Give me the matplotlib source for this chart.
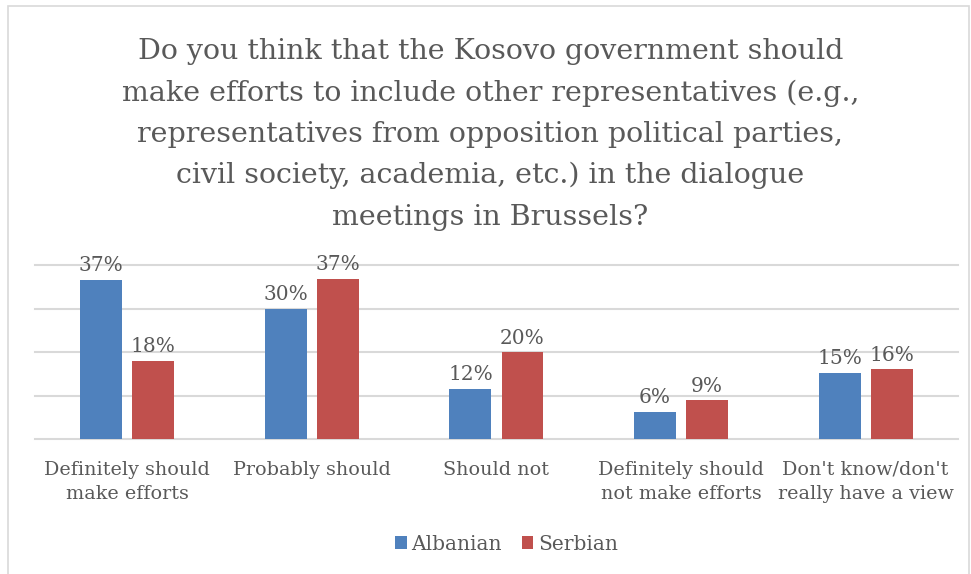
import numpy as np
import matplotlib.pyplot as plt
from matplotlib.patches import Rectangle

# data
categories = ['Definitely should\nmake efforts', 'Probably should', 'Should not',
              'Definitely should\nnot make efforts', "Don't know/don't\nreally have a view"]
albanian = [36.6, 30.0, 11.5, 6.3, 15.2]
serbian = [17.9, 36.9, 19.9, 8.9, 16.0]
albanian_labels = ['37%', '30%', '12%', '6%', '15%']
serbian_labels = ['18%', '37%', '20%', '9%', '16%']

title = ('Do you think that the Kosovo government should\n'
         'make efforts to include other representatives (e.g.,\n'
         'representatives from opposition political parties,\n'
         'civil society, academia, etc.) in the dialogue\n'
         'meetings in Brussels?')

plt.rcParams['font.family'] = ['DejaVu Serif']
text_col = '#595959'

fig = plt.figure(figsize=(9.71, 5.74), dpi=100)
ax = fig.add_axes([0.036, 0.2352, 0.9506, 0.303])

x = np.arange(len(categories))
w = 0.227
off = 0.141
b1 = ax.bar(x - off, albanian, w, color='#4F81BD', label='Albanian', zorder=3)
b2 = ax.bar(x + off, serbian, w, color='#C0504D', label='Serbian', zorder=3)

for bars, labs in [(b1, albanian_labels), (b2, serbian_labels)]:
    for r, t in zip(bars, labs):
        ax.text(r.get_x() + r.get_width() / 2, r.get_height() + 1.1, t,
                ha='center', va='bottom', fontsize=14.5, color=text_col)

ax.set_xlim(-0.5, 4.5)
ax.set_ylim(0, 40)
ax.set_yticks([0, 10, 20, 30, 40])
ax.yaxis.grid(True, color='#D9D9D9', linewidth=1.5, zorder=0)
for gl in ax.get_ygridlines():
    gl.set_clip_on(False)
ax.tick_params(left=False, labelleft=False, bottom=False)
ax.set_xticks(x)
ax.set_xticklabels(categories, fontsize=13.8, color=text_col, linespacing=1.45)
ax.tick_params(axis='x', pad=12)
for s in ['top', 'right', 'left', 'bottom']:
    ax.spines[s].set_visible(False)

fig.text(0.505, 0.766, title, ha='center', va='center', fontsize=20.5,
         color=text_col, linespacing=1.67)

fig.legend(loc='center', bbox_to_anchor=(0.522, 0.052), ncol=2, frameon=False,
           fontsize=14.5, handlelength=0.55, handleheight=0.55, handletextpad=0.25,
           columnspacing=1.0, labelcolor=text_col)

# light border around the chart area
fig.patches.append(Rectangle((0.008, -0.01), 0.99, 1.0, transform=fig.transFigure,
                             fill=False, edgecolor='#D9D9D9', linewidth=1.2))

fig.savefig('out.png', dpi=100)
